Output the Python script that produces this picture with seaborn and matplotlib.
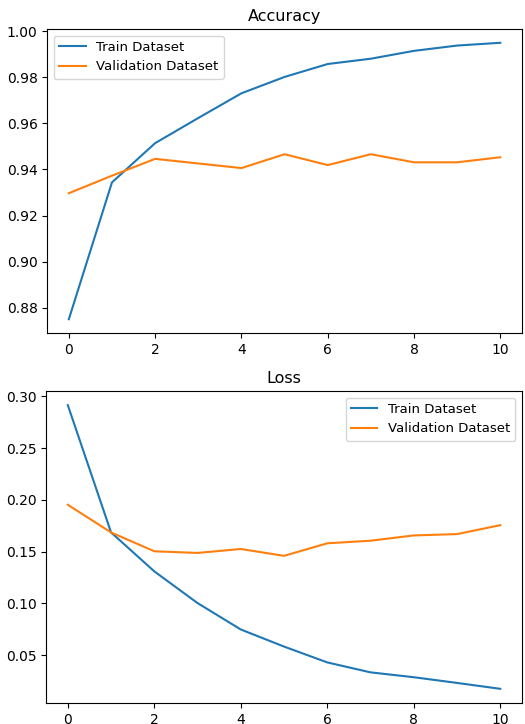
import pandas as pd
import numpy as np
import seaborn as sns
import matplotlib.pyplot as plt

epochs = list(range(11))

train_acc = [0.8751, 0.9344, 0.9514, 0.9623, 0.9730, 0.9801, 0.9857, 0.9880, 0.9914, 0.9937, 0.9949]
val_acc = [0.9297, 0.9373, 0.9446, 0.9426, 0.9406, 0.9466, 0.9419, 0.9466, 0.9431, 0.9431, 0.9453]

train_loss = [0.2914, 0.1685, 0.1309, 0.1003, 0.0748, 0.0583, 0.0430, 0.0334, 0.0287, 0.0232, 0.0175]
val_loss = [0.1952, 0.1685, 0.1503, 0.1487, 0.1525, 0.1459, 0.1580, 0.1605, 0.1656, 0.1669, 0.1755]

fig = plt.figure(figsize=(5.25, 7.24), dpi=100)
a = fig.add_axes([0.09, 0.54, 0.904, 0.42])
b = fig.add_axes([0.088, 0.029, 0.906, 0.431])

# accuracy
sns.lineplot(x=epochs, y=train_acc, ax=a, label='Train Dataset')
sns.lineplot(x=epochs, y=val_acc, ax=a, label='Validation Dataset')
a.set_title('Accuracy', fontsize=11.5)
a.legend(loc='upper left', fontsize=9.5)

# loss
sns.lineplot(x=epochs, y=train_loss, ax=b, label='Train Dataset')
sns.lineplot(x=epochs, y=val_loss, ax=b, label='Validation Dataset')
b.set_title('Loss', fontsize=11.5)
b.legend(loc='upper right', fontsize=9.5)

for ax in (a, b):
    ax.set_xticks([0, 2, 4, 6, 8, 10])

fig.savefig('out.png', dpi=100)
